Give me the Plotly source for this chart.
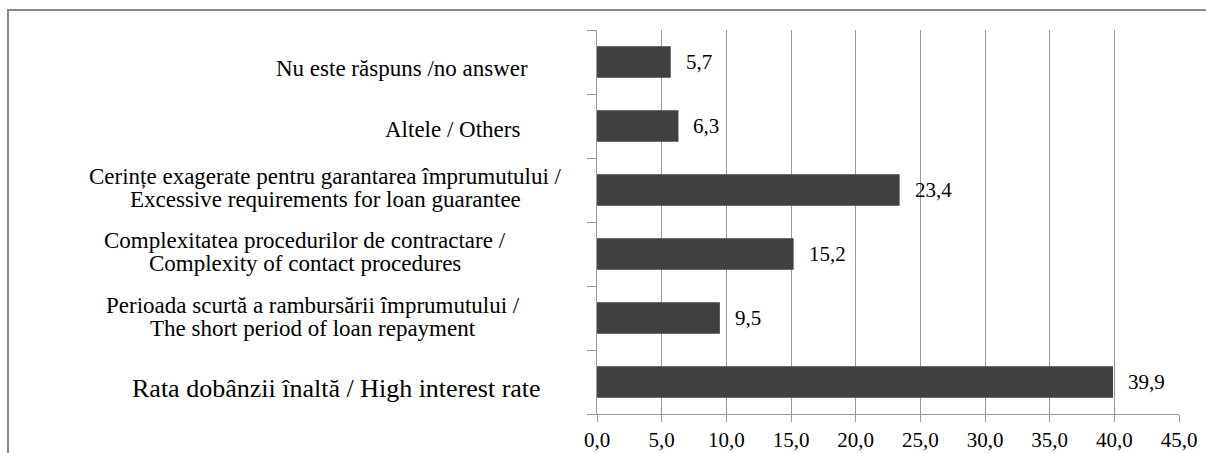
import plotly.graph_objects as go

# categories from bottom to top (as drawn)
categories = [
    "Rata dobânzii înaltă / High interest rate",
    "Perioada scurtă a rambursării împrumutului /<br>The short period of loan repayment",
    "Complexitatea procedurilor de contractare /<br>Complexity of contact procedures",
    "Cerințe exagerate pentru garantarea împrumutului /<br>Excessive requirements for loan guarantee",
    "Altele / Others",
    "Nu este răspuns /no answer",
]
values = [39.9, 9.5, 15.2, 23.4, 6.3, 5.7]
value_labels = ["39,9", "9,5", "15,2", "23,4", "6,3", "5,7"]

# label centres (px from left of the image), font sizes, vertical nudges
label_centres = [336, 313, 305, 325, 452, 402]
label_sizes = [26, 23, 23, 23, 23, 23]
label_shift = [-6, 1, 2, 2, -3, -6]

W, H = 1206, 453
L, R, T, B = 597, 1206 - 1179, 30, 453 - 414
pw = W - L - R
ph = H - T - B

def px_x(p):
    return (p - L) / pw

def px_y(p):
    return (H - B - p) / ph

serif = "Liberation Serif"

fig = go.Figure()
fig.add_trace(go.Bar(
    y=categories,
    x=values,
    orientation="h",
    marker=dict(color="#404040", line=dict(color="#404040", width=0)),
    width=0.49,
    hoverinfo="skip",
))

# category labels left of the axis, one annotation per line for tight spacing
for cat, cx, fs, dy in zip(categories, label_centres, label_sizes, label_shift):
    lines = cat.split("<br>")
    n = len(lines)
    for i, ln in enumerate(lines):
        fig.add_annotation(
            x=px_x(cx), xref="paper", y=cat, yref="y",
            text=ln, showarrow=False, xanchor="center", yanchor="middle",
            font=dict(family=serif, size=fs, color="black"),
            yshift=dy + ((n - 1) / 2 - i) * 23,
        )

# value labels
for cat, v, t in zip(categories, values, value_labels):
    fig.add_annotation(
        x=v, y=cat, text=t, showarrow=False, xanchor="left", yanchor="middle",
        xshift=13, font=dict(family=serif, size=21, color="black"),
    )

# outer frame lines (top and left)
fig.add_shape(type="line", xref="paper", yref="paper",
              x0=px_x(8), x1=px_x(W), y0=px_y(10), y1=px_y(10),
              line=dict(color="#8a8a8a", width=2))
fig.add_shape(type="line", xref="paper", yref="paper",
              x0=px_x(8), x1=px_x(8), y0=px_y(9), y1=px_y(H),
              line=dict(color="#8a8a8a", width=2))

fig.update_layout(
    width=W, height=H,
    margin=dict(l=L, r=R, t=T, b=B),
    paper_bgcolor="white", plot_bgcolor="white",
    separators=",.",
    showlegend=False,
    bargap=0.5,
    xaxis=dict(
        range=[0, 45], dtick=5, tick0=0, tickformat=".1f",
        showgrid=True, gridcolor="#9a9a9a", gridwidth=1,
        showline=True, linecolor="#9a9a9a", linewidth=1,
        ticks="outside", ticklen=7, tickcolor="#9a9a9a",
        zeroline=False, automargin=False,
        tickfont=dict(family=serif, size=21, color="black"),
    ),
    yaxis=dict(
        categoryorder="array", categoryarray=categories,
        showticklabels=False,
        showline=True, linecolor="#9a9a9a", linewidth=1,
        ticks="outside", ticklen=9, tickcolor="#9a9a9a",
        tickson="boundaries", showgrid=False, automargin=False,
    ),
)

# drop the default page margin so the figure fills the window exactly
fig.write_html(
    "out.html",
    config={"displayModeBar": False},
    post_script="document.body.style.margin='0';document.body.style.overflow='hidden';",
)
